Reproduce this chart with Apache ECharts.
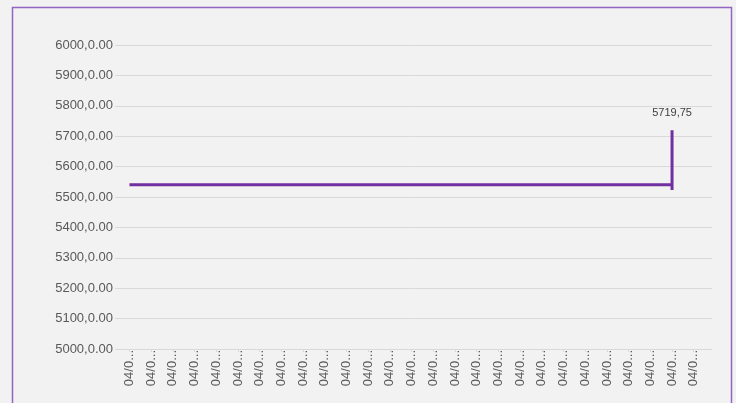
<!DOCTYPE html>
<html>
<head>
<meta charset="utf-8">
<script src="https://cdn.jsdelivr.net/npm/echarts@6/dist/echarts.min.js"></script>
<style>
  html, body { margin: 0; padding: 0; background: #f2f2f2; }
  #chart { width: 736px; height: 403px; }
</style>
</head>
<body>
<div id="chart"></div>
<script>
// x 轴刻度标签（会被截断成 04/0...）
const dateLabels = [
  '04/01/2024 00:00', '04/01/2024 01:00', '04/01/2024 02:00', '04/01/2024 03:00',
  '04/01/2024 04:00', '04/01/2024 05:00', '04/01/2024 06:00', '04/01/2024 07:00',
  '04/01/2024 08:00', '04/01/2024 09:00', '04/01/2024 10:00', '04/01/2024 11:00',
  '04/01/2024 12:00', '04/01/2024 13:00', '04/01/2024 14:00', '04/01/2024 15:00',
  '04/01/2024 16:00', '04/01/2024 17:00', '04/01/2024 18:00', '04/01/2024 19:00',
  '04/01/2024 20:00', '04/01/2024 21:00', '04/01/2024 22:00', '04/01/2024 23:00',
  '04/02/2024 00:00', '04/02/2024 01:00', '04/02/2024 02:00'
];

// 折线的点：类目下标 + 数值（最后一个类目上有一根竖线）
const pointIndex = [
  0, 1, 2, 3, 4, 5, 6, 7, 8, 9, 10, 11, 12,
  13, 14, 15, 16, 17, 18, 19, 20, 21, 22, 23, 24, 25,
  25, 25
];
const pointValues = [
  5540, 5540, 5540, 5540, 5540, 5540, 5540, 5540, 5540, 5540, 5540, 5540, 5540,
  5540, 5540, 5540, 5540, 5540, 5540, 5540, 5540, 5540, 5540, 5540, 5540, 5540,
  5523, 5719.75
];

const yMin = 5000;
const yMax = 6000;
const yStep = 100;

const lastIdx = pointValues.length - 1;
const lineData = pointIndex.map((x, i) => {
  const item = { value: [x, pointValues[i]] };
  if (i === lastIdx) {
    item.label = { show: true };
  }
  return item;
});

const chart = echarts.init(document.getElementById('chart'));

const option = {
  backgroundColor: '#f2f2f2',
  textStyle: { fontFamily: 'Liberation Sans, Arial, sans-serif' },
  animation: false,
  graphic: [{
    type: 'rect',
    shape: { x: 12.5, y: 7.5, width: 719, height: 410 },
    style: { fill: 'none', stroke: '#9565c4', lineWidth: 1.5 },
    silent: true
  }],
  grid: [
    { left: 115, right: 24, top: 45, bottom: 54 },       // 网格线 + y 轴标签
    { left: 118.6, right: 31.4, top: 45, bottom: 54 }    // 类目轴 + 折线
  ],
  xAxis: [
    { type: 'value', gridIndex: 0, show: false, min: 0, max: 1 },
    {
      type: 'category',
      gridIndex: 1,
      data: dateLabels,
      boundaryGap: true,
      axisLine: { show: true, lineStyle: { color: '#d9d9d9' } },
      axisTick: { show: true, alignWithLabel: true, length: 3, lineStyle: { color: '#d9d9d9' } },
      axisLabel: {
        interval: 0,
        rotate: 90,
        margin: 1,
        fontSize: 13,
        color: '#595959',
        width: 38,
        padding: [6, 0, 0, 0],
        overflow: 'truncate',
        ellipsis: '...'
      },
      splitLine: { show: false }
    }
  ],
  yAxis: [
    {
      type: 'value',
      gridIndex: 0,
      min: yMin,
      max: yMax,
      interval: yStep,
      axisLine: { show: false },
      axisTick: { show: false },
      axisLabel: {
        margin: 2,
        fontSize: 13,
        color: '#595959',
        formatter: v => v + ',0.00'
      },
      splitLine: { lineStyle: { color: '#d9d9d9', width: 1 } }
    },
    {
      type: 'value',
      gridIndex: 1,
      min: yMin,
      max: yMax,
      interval: yStep,
      show: false,
      splitLine: { show: false }
    }
  ],
  series: [{
    type: 'line',
    xAxisIndex: 1,
    yAxisIndex: 1,
    data: lineData,
    symbol: 'circle',
    symbolSize: 0,
    showSymbol: true,
    lineStyle: { color: '#7030a0', width: 3 },
    itemStyle: { color: '#7030a0' },
    label: {
      show: false,
      position: 'top',
      distance: 12,
      fontSize: 11,
      color: '#404040',
      formatter: p => String(p.value[1]).replace('.', ',')
    }
  }]
};

chart.setOption(option);
</script>
</body>
</html>
